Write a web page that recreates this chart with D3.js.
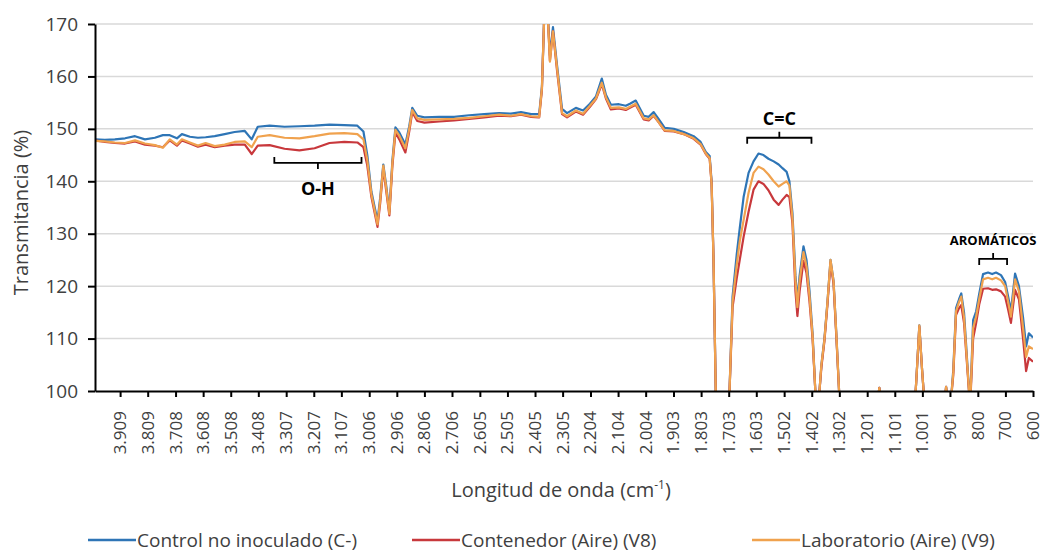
<!DOCTYPE html>
<html>
<head>
<meta charset="utf-8">
<script src="https://cdn.jsdelivr.net/npm/d3@7"></script>
<style>
  body { margin: 0; background: #fff; }
  text { font-family: "Open Sans", sans-serif; }
</style>
</head>
<body>
<div id="chart"></div>
<script>
// wavenumber (cm-1), 10 per row
var wavenumber = [
  4000, 3964, 3928, 3891, 3855, 3819, 3783, 3754, 3729, 3703,
  3685, 3656, 3627, 3599, 3566, 3530, 3494, 3457, 3432, 3410,
  3367, 3313, 3259, 3204, 3150, 3096, 3049, 3027, 3013, 2998,
  2976, 2966, 2955, 2944, 2933, 2922, 2911, 2897, 2875, 2861,
  2850, 2832, 2806, 2752, 2698, 2644, 2589, 2535, 2492, 2456,
  2419, 2390, 2380, 2369, 2362, 2351, 2340, 2325, 2307, 2289,
  2257, 2231, 2206, 2184, 2163, 2148, 2130, 2101, 2076, 2061,
  2040, 2011, 1993, 1975, 1956, 1935, 1902, 1866, 1830, 1805,
  1786, 1772, 1765, 1758, 1750, 1739, 1711, 1700, 1689, 1674,
  1663, 1649, 1631, 1613, 1595, 1577, 1559, 1540, 1522, 1508,
  1493, 1483, 1472, 1461, 1454, 1446, 1432, 1421, 1410, 1399,
  1389, 1381, 1374, 1367, 1356, 1345, 1334, 1323, 1313, 1302,
  1269, 1168, 1157, 1146, 1070, 1030, 1023, 1012, 1002, 991,
  962, 922, 915, 907, 897, 889, 879, 868, 860, 850,
  839, 828, 817, 806, 795, 781, 763, 748, 734, 716,
  701, 690, 680, 665, 651, 636, 625, 615, 600
];

var control = [
  148.0, 147.9, 148.0, 148.2, 148.6, 148.0, 148.3, 148.8, 148.8, 148.2,
  149.0, 148.5, 148.3, 148.4, 148.6, 149.0, 149.4, 149.6, 148.0, 150.4,
  150.6, 150.4, 150.5, 150.6, 150.8, 150.7, 150.6, 149.5, 145.0, 138.0,
  132.5, 137.0, 143.2, 139.0, 134.2, 144.0, 150.3, 149.3, 147.0, 150.5,
  154.0, 152.5, 152.2, 152.3, 152.3, 152.6, 152.8, 153.0, 152.9, 153.2,
  152.8, 152.8, 158.0, 176.0, 175.0, 164.0, 169.4, 162.0, 153.8, 153.0,
  154.0, 153.5, 154.8, 156.2, 159.6, 156.5, 154.6, 154.7, 154.4, 154.8,
  155.4, 152.5, 152.3, 153.2, 151.8, 150.2, 150.0, 149.4, 148.6, 147.5,
  145.6, 144.8, 140.0, 125.0, 100.0, 60, 60, 100.0, 118.0, 126.0,
  131.0, 137.0, 141.6, 143.8, 145.3, 145.0, 144.3, 143.8, 143.2, 142.5,
  141.8, 140.0, 134.0, 122.0, 117.0, 122.0, 127.6, 125.0, 119.0, 111.0,
  100.0, 85, 100.0, 105.0, 110.0, 117.0, 125.0, 121.0, 111.0, 99.0,
  70, 96, 100.6, 96, 70, 96, 102, 112.5, 104, 96,
  70, 97, 100.8, 97, 98.5, 104, 115.8, 117.5, 118.6, 115.0,
  106, 97, 113.5, 115.2, 118.5, 122.3, 122.6, 122.3, 122.6, 122.1,
  120.8, 118.0, 115.2, 122.4, 120.0, 114.0, 108.5, 111.0, 110.2
];

var contenedor = [
  147.8, 147.5, 147.3, 147.2, 147.6, 147.0, 146.8, 146.5, 147.8, 146.8,
  147.8, 147.2, 146.6, 147.0, 146.5, 146.8, 147.0, 147.0, 145.2, 146.8,
  146.9, 146.2, 145.9, 146.3, 147.3, 147.5, 147.4, 146.5, 143.0, 137.0,
  131.3, 136.0, 142.5, 138.0, 133.5, 143.0, 149.3, 148.0, 145.5, 149.5,
  153.2, 151.5, 151.2, 151.4, 151.6, 151.9, 152.2, 152.5, 152.4, 152.7,
  152.3, 152.2, 157.5, 176.0, 175.0, 163.0, 168.6, 161.0, 152.8, 152.2,
  153.3, 152.7, 154.2, 155.7, 158.5, 155.8, 153.7, 153.9, 153.6, 154.0,
  154.6, 151.8, 151.6, 152.5, 151.2, 149.6, 149.5, 149.0, 148.1, 147.0,
  145.2, 144.3, 139.5, 125.0, 100.0, 60, 60, 100.0, 116.0, 121.5,
  125.0, 129.4, 134.2, 138.4, 140.0, 139.5, 138.3, 136.5, 135.5, 136.5,
  137.4, 137.0, 132.0, 119.0, 114.3, 119.0, 124.8, 122.5, 117.0, 110.0,
  100.0, 85, 100.0, 104.5, 109.5, 116.5, 124.5, 120.5, 110.5, 99.0,
  70, 96, 100.6, 96, 70, 96, 102, 112.3, 104, 96,
  70, 97, 100.8, 97, 98.5, 103, 114.5, 115.8, 116.4, 113.0,
  105, 97, 110.0, 113.0, 116.5, 119.5, 119.6, 119.3, 119.4, 119.0,
  118.0, 115.5, 113.0, 119.3, 117.5, 110.0, 103.8, 106.3, 105.6
];

var laboratorio = [
  147.7, 147.6, 147.4, 147.3, 147.8, 147.2, 146.9, 146.4, 148.0, 147.0,
  148.0, 147.4, 146.8, 147.3, 146.7, 147.0, 147.5, 147.6, 146.5, 148.5,
  148.8, 148.3, 148.2, 148.6, 149.1, 149.2, 149.0, 148.0, 144.0, 137.5,
  131.8, 136.5, 143.0, 138.5, 133.8, 143.5, 149.8, 148.7, 146.3, 150.0,
  153.6, 152.0, 151.7, 151.8, 151.9, 152.1, 152.4, 152.7, 152.5, 152.8,
  152.4, 152.3, 157.8, 176.0, 175.0, 162.8, 168.6, 161.5, 153.0, 152.4,
  153.5, 152.9, 154.4, 155.8, 158.8, 156.0, 154.0, 154.1, 153.8, 154.2,
  154.8, 152.0, 151.8, 152.6, 151.2, 149.7, 149.6, 149.0, 148.2, 147.1,
  145.3, 144.4, 139.5, 125.0, 100.0, 60, 60, 100.0, 117.0, 124.0,
  128.5, 132.6, 137.8, 141.6, 142.8, 142.3, 141.3, 140.0, 139.0, 139.5,
  140.0, 139.2, 133.0, 121.0, 116.0, 121.0, 126.5, 123.8, 118.0, 110.5,
  100.0, 85, 100.0, 105.0, 109.8, 117.0, 125.0, 121.0, 111.0, 99.0,
  70, 96, 100.6, 96, 70, 96, 102, 112.5, 104, 96,
  70, 97, 100.8, 97, 98.5, 103.5, 115.2, 117.0, 118.0, 114.0,
  105.5, 97, 112.0, 114.2, 117.5, 121.3, 121.6, 121.3, 121.6, 121.1,
  120.0, 117.0, 114.2, 121.3, 119.0, 112.0, 106.5, 108.5, 108.0
];

var seriesNames = ["Control no inoculado (C-)", "Contenedor (Aire) (V8)", "Laboratorio (Aire) (V9)"];
var seriesColors = ["#2e75b6", "#c8383c", "#f0a24e"];

var xTicks = [3909, 3809, 3708, 3608, 3508, 3408, 3307, 3207, 3107, 3006,
              2906, 2806, 2706, 2605, 2505, 2405, 2305, 2204, 2104, 2004,
              1903, 1803, 1703, 1603, 1502, 1402, 1302, 1201, 1101, 1001,
              901, 800, 700, 600];
var yTicks = [100, 110, 120, 130, 140, 150, 160, 170];

// band labels: from/to wavenumber, level of the bracket, which way it opens
var bands = [
  { label: "O-H", from: 3350, to: 3034, level: 143.5, dir: "up", size: 18 },
  { label: "C=C", from: 1636, to: 1403, level: 148.3, dir: "down", size: 18 },
  { label: "AROMÁTICOS", from: 795, to: 694, level: 125.2, dir: "down", size: 13 }
];

var W = 1044, H = 552;
var margin = { top: 24, right: 11, bottom: 161, left: 95 };
var width = W - margin.left - margin.right,
    height = H - margin.top - margin.bottom;

var svg = d3.select("#chart").append("svg")
    .attr("width", W)
    .attr("height", H);

var g = svg.append("g")
    .attr("transform", "translate(" + margin.left + "," + margin.top + ")");

var x = d3.scaleLinear().domain([4000, 600]).range([0, width]);
var y = d3.scaleLinear().domain([100, 170]).range([height, 0]);

var es = d3.formatLocale({ decimal: ",", thousands: ".", grouping: [3], currency: ["", ""] });
var fmt = es.format(",d");

// gridlines
g.selectAll(".grid")
    .data(yTicks.slice(1))
  .enter().append("line")
    .attr("x1", 0).attr("x2", width)
    .attr("y1", function(d) { return y(d); })
    .attr("y2", function(d) { return y(d); })
    .attr("stroke", "#d9d9d9")
    .attr("stroke-width", 1.5);

g.append("clipPath").attr("id", "plot-clip")
  .append("rect")
    .attr("x", 0).attr("y", 0)
    .attr("width", width).attr("height", height);

var allSeries = [control, contenedor, laboratorio];
var line = d3.line()
    .x(function(d, i) { return x(wavenumber[i]); })
    .y(function(d) { return y(d); });

g.append("g").attr("clip-path", "url(#plot-clip)")
  .selectAll("path")
    .data(allSeries)
  .enter().append("path")
    .attr("d", line)
    .attr("fill", "none")
    .attr("stroke", function(d, i) { return seriesColors[i]; })
    .attr("stroke-width", 2.2)
    .attr("stroke-linejoin", "round");

// y axis
var yAxis = g.append("g")
    .call(d3.axisLeft(y).tickValues(yTicks).tickSize(7).tickSizeOuter(0).tickPadding(10));
yAxis.select(".domain").attr("stroke", "#000").attr("stroke-width", 2);
yAxis.selectAll(".tick line").attr("stroke", "#000").attr("stroke-width", 2);
yAxis.selectAll("text")
    .style("font-size", "19px")
    .attr("fill", "#404040");

// x axis
var xAxis = g.append("g")
    .attr("transform", "translate(0," + height + ")")
    .call(d3.axisBottom(x).tickValues(xTicks).tickFormat(fmt).tickSize(6).tickSizeOuter(0));
xAxis.select(".domain").attr("stroke", "#000").attr("stroke-width", 2);
xAxis.selectAll(".tick line").attr("stroke", "#000").attr("stroke-width", 2);
xAxis.selectAll("text")
    .style("font-size", "17px")
    .style("text-anchor", "end")
    .attr("fill", "#404040")
    .attr("x", -20)
    .attr("y", 0)
    .attr("dy", "0.32em")
    .attr("transform", "rotate(-90)");

// axis titles
svg.append("text")
    .attr("transform", "translate(28," + (margin.top + height / 2 + 5) + ") rotate(-90)")
    .style("text-anchor", "middle")
    .style("font-size", "20px")
    .attr("fill", "#404040")
    .text("Transmitancia (%)");

var xt = svg.append("text")
    .attr("x", margin.left + width / 2 - 3)
    .attr("y", 497)
    .style("text-anchor", "middle")
    .style("font-size", "20px")
    .attr("fill", "#404040");
xt.append("tspan").text("Longitud de onda (cm");
xt.append("tspan").attr("dy", -8).style("font-size", "12px").text("-1");
xt.append("tspan").attr("dy", 8).text(")");

// band brackets
bands.forEach(function(b) {
  var x1 = x(b.from), x2 = x(b.to), xm = (x1 + x2) / 2, yl = y(b.level);
  var s = b.dir === "up" ? -1 : 1;      // end ticks go this way
  g.append("path")
      .attr("d", "M" + x1 + "," + (yl + s * 6) + "V" + yl + "H" + x2 + "V" + (yl + s * 6) +
                 "M" + xm + "," + yl + "V" + (yl - s * 6))
      .attr("fill", "none")
      .attr("stroke", "#000")
      .attr("stroke-width", 1.8);
  g.append("text")
      .attr("x", xm)
      .attr("y", b.dir === "up" ? yl + 32 : yl - (b.size > 14 ? 13 : 14))
      .style("text-anchor", "middle")
      .style("font-size", b.size + "px")
      .style("font-weight", "bold")
      .attr("fill", "#000")
      .text(b.label);
});

// legend
var legendX = [88, 412, 752];
var legend = svg.selectAll(".legend")
    .data(seriesNames)
  .enter().append("g")
    .attr("transform", function(d, i) { return "translate(" + legendX[i] + ",540)"; });
legend.append("line")
    .attr("x1", 0).attr("x2", 48)
    .attr("stroke", function(d, i) { return seriesColors[i]; })
    .attr("stroke-width", 2.5);
legend.append("text")
    .attr("x", 49)
    .attr("dy", "0.35em")
    .style("font-size", "19px")
    .attr("fill", "#404040")
    .text(function(d) { return d; });
</script>
</body>
</html>
